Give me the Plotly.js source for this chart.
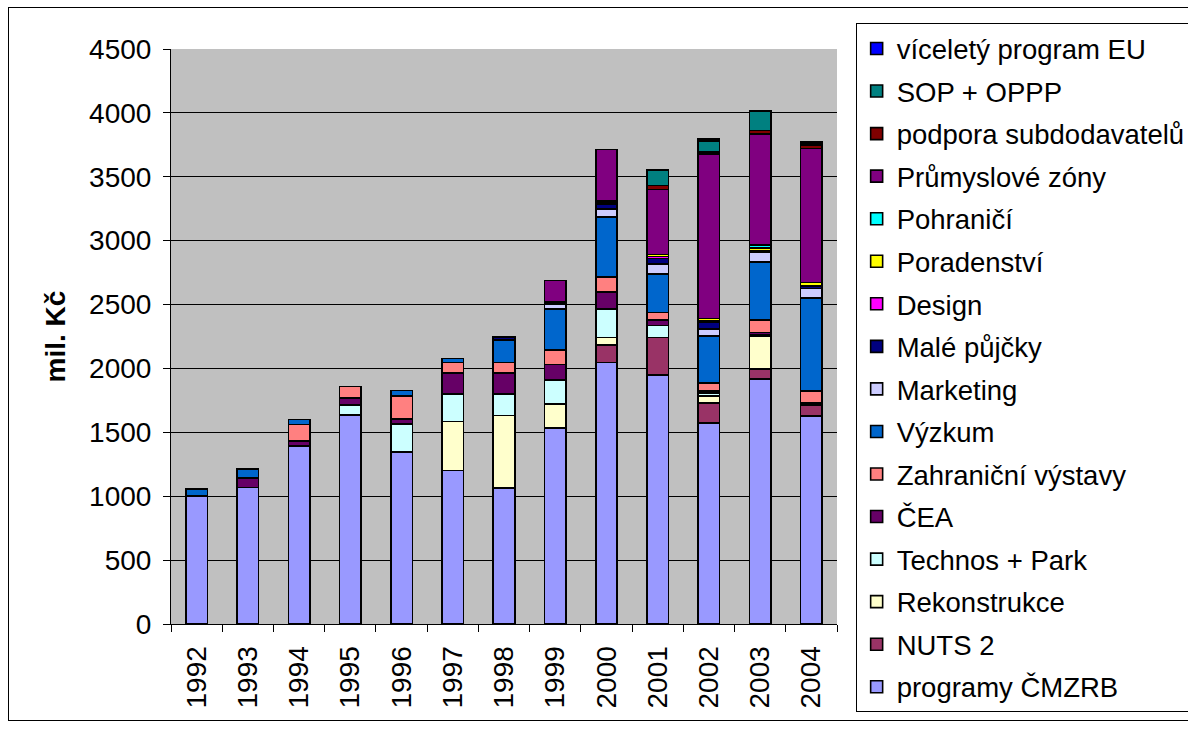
<!DOCTYPE html>
<html>
<head>
<meta charset="utf-8">
<script src="https://cdn.plot.ly/plotly-3.0.1.min.js"></script>
<style>
  html, body { margin: 0; padding: 0; background: #ffffff; overflow: hidden; }
  #frame { position: absolute; left: 8px; top: 7px; width: 1200px; height: 714px; border: 1px solid #000; box-sizing: border-box; pointer-events: none; z-index: 5; }
  #chart { position: absolute; left: 0; top: 0; width: 1188px; height: 730px; }
</style>
</head>
<body>
<div id="chart"></div>
<div id="frame"></div>
<script>
const years = ['1992','1993','1994','1995','1996','1997','1998','1999','2000','2001','2002','2003','2004'];

const seriesNames = ['programy ČMZRB','NUTS 2','Rekonstrukce','Technos + Park','ČEA','Zahraniční výstavy','Výzkum','Marketing','Malé půjčky','Design','Poradenství','Pohraničí','Průmyslové zóny','podpora subdodavatelů','SOP + OPPP','víceletý program EU'];

const programyCMZRB   = [1000,1068,1391,1635,1345,1200,1063,1532,2046,1950,1574,1918,1627];
const nuts2           = [0,0,0,0,0,0,0,0,139,292,154,79,85];
const rekonstrukce    = [0,0,0,0,0,384,568,188,57,0,55,252,0];
const technosPark     = [0,0,0,80,221,215,168,188,222,94,27,12,0];
const cea             = [0,75,40,54,39,164,164,122,133,45,15,19,16];
const zahranicni      = [0,0,129,91,178,83,83,116,118,57,59,98,97];
const vyzkum          = [55,68,42,0,44,32,178,321,470,303,370,453,728];
const marketing       = [0,0,0,0,0,0,0,39,65,75,53,82,74];
const malePujcky      = [0,0,0,0,0,0,22,13,35,45,55,10,20];
const design          = [0,0,0,0,0,0,0,0,15,15,10,0,0];
const poradenstvi     = [0,0,0,0,0,0,0,0,10,15,20,20,25];
const pohranici       = [0,0,0,0,0,0,0,0,0,0,0,21,0];
const prumysloveZony  = [0,0,0,0,0,0,0,169,405,510,1285,869,1050];
const podporaSubdod   = [0,0,0,0,0,0,0,0,0,30,19,29,27];
const sopOppp         = [0,0,0,0,0,0,0,0,0,120,84,151,16];
const vicelProgramEU  = [0,0,0,0,0,0,0,0,0,0,15,0,12];

const seriesValues = [programyCMZRB, nuts2, rekonstrukce, technosPark, cea, zahranicni, vyzkum, marketing, malePujcky, design, poradenstvi, pohranici, prumysloveZony, podporaSubdod, sopOppp, vicelProgramEU];
const seriesColors = ['#9999FF','#993366','#FFFFCC','#CCFFFF','#660066','#FF8080','#0066CC','#CCCCFF','#000080','#FF00FF','#FFFF00','#00FFFF','#800080','#800000','#008080','#0000FF'];

const FONT = 'Liberation Sans, Arial, sans-serif';

const traces = seriesNames.map((name, i) => ({
  type: 'bar',
  name: name,
  x: years,
  y: seriesValues[i],
  legendgroup: 'g' + i,
  legendrank: 1000 - i,
  marker: { color: seriesColors[i], line: { color: '#000000', width: 1.6 } },
  hoverinfo: 'x+y+name'
}));

const layout = {
  width: 1188,
  height: 730,
  barmode: 'stack',
  bargap: 0.58,
  paper_bgcolor: '#ffffff',
  plot_bgcolor: '#C0C0C0',
  margin: { l: 171, r: 351, t: 49, b: 106, autoexpand: false },
  font: { family: FONT, size: 28, color: '#000000' },
  showlegend: true,
  legend: {
    x: 1.028, xanchor: 'left',
    y: 1.045, yanchor: 'top',
    traceorder: 'grouped',
    tracegroupgap: 3.8,
    maxheight: 725,
    bgcolor: '#ffffff',
    bordercolor: '#000000',
    borderwidth: 1,
    font: { family: FONT, size: 27.5, color: '#000000' }
  },
  xaxis: {
    type: 'category',
    tickangle: -90,
    ticks: 'outside',
    tickson: 'boundaries',
    ticklen: 7,
    tickcolor: '#000000',
    ticklabelstandoff: 10,
    showline: true,
    linecolor: '#000000',
    linewidth: 1,
    showgrid: false,
    tickfont: { family: FONT, size: 28, color: '#000000' }
  },
  yaxis: {
    range: [0, 4500],
    tickmode: 'linear',
    tick0: 0,
    dtick: 500,
    ticks: 'outside',
    ticklen: 7,
    tickcolor: '#000000',
    ticklabelstandoff: 6,
    showline: true,
    linecolor: '#000000',
    linewidth: 1,
    showgrid: true,
    gridcolor: '#000000',
    gridwidth: 1,
    zeroline: false,
    tickfont: { family: FONT, size: 28, color: '#000000' },
    title: { text: '<b>mil. Kč</b>', font: { family: FONT, size: 28, color: '#000000' }, standoff: 15 }
  }
};

Plotly.newPlot('chart', traces, layout, { displayModeBar: false, staticPlot: true });
</script>
</body>
</html>
